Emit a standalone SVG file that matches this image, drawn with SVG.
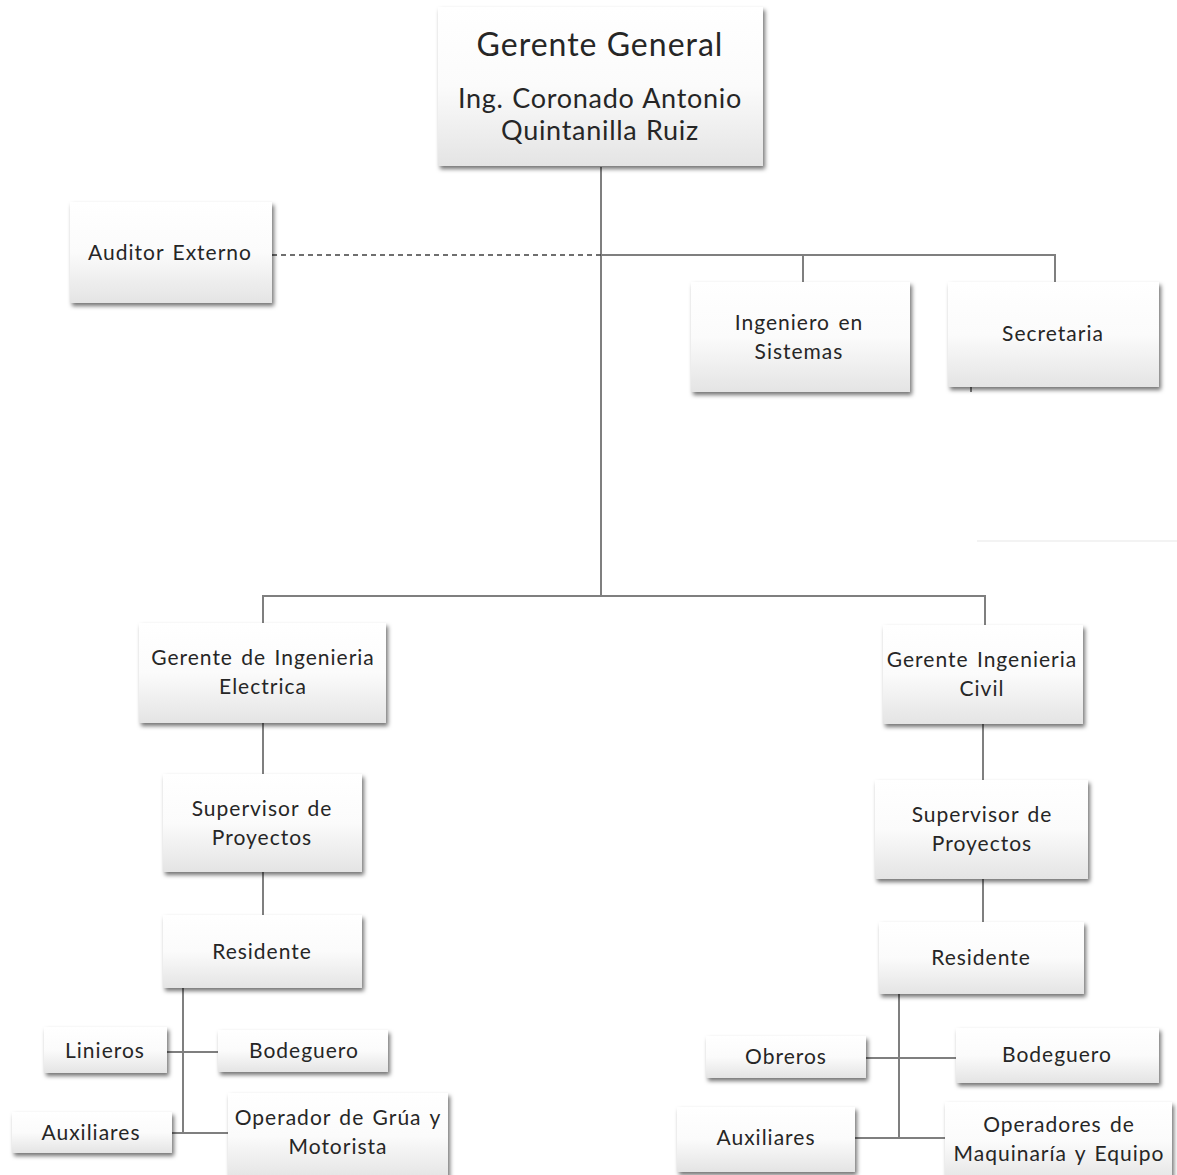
<svg xmlns="http://www.w3.org/2000/svg" width="1177" height="1175" viewBox="0 0 1177 1175">
<style>
.box{fill:url(#g);filter:url(#sh)}
.t{font-family:Lato,"Open Sans","Liberation Sans",sans-serif;font-size:21px;letter-spacing:1px;word-spacing:2px;fill:#262626;text-anchor:middle}
.big{font-size:32px;letter-spacing:1px;word-spacing:0}
.mid{font-size:27px;letter-spacing:0.7px;word-spacing:1px}
.c{stroke:#7f7f7f;stroke-width:2;fill:none}
.d{stroke:#404040;stroke-width:1.5;stroke-dasharray:5 4;fill:none}
</style>
<defs>
<linearGradient id="g" x1="0" y1="0" x2="0" y2="1">
<stop offset="0" stop-color="#ffffff"/>
<stop offset="0.5" stop-color="#fbfbfb"/>
<stop offset="1" stop-color="#e4e4e4"/>
</linearGradient>
<filter id="sh" x="-10%" y="-10%" width="130%" height="140%">
<feDropShadow dx="2" dy="3" stdDeviation="2" flood-color="#000" flood-opacity="0.55"/>
</filter>
</defs>
<rect width="1177" height="1175" fill="#fff"/>
<g id="connectors">
<path class="c" d="M601 167V596"/>
<path class="d" d="M272 255H601"/>
<path class="c" d="M601 255H1055V282M803 255V282"/>
<path class="c" d="M263 625V596H985V625"/>
<path class="c" d="M263 723V774M263 872V915"/>
<path class="c" d="M983 724V780M983 879V922"/>
<path class="c" d="M183 988V1133M167 1052H218M172 1133H228"/>
<path class="c" d="M899 994V1138M866 1058H956M855 1138H945"/>
<path class="c" d="M971 387V392" stroke-width="1.5"/>
<path d="M977 541H1177" stroke="#f3f3f3" stroke-width="2"/>
</g>
<g id="gerente-general"><rect class="box" x="438" y="7" width="325" height="159"/>
<text class="t big" x="600" y="56">Gerente General</text>
<text class="t mid" x="600" y="108">Ing. Coronado Antonio</text>
<text class="t mid" x="600" y="140">Quintanilla Ruiz</text></g>
<g id="auditor"><rect class="box" x="70" y="202" width="202" height="101"/>
<text class="t" x="170" y="260">Auditor Externo</text></g>
<g id="ingeniero-sistemas"><rect class="box" x="691" y="282" width="219" height="110"/>
<text class="t" x="799" y="330">Ingeniero en</text>
<text class="t" x="799" y="359">Sistemas</text></g>
<g id="secretaria"><rect class="box" x="948" y="282" width="211" height="105"/>
<text class="t" x="1053" y="341">Secretaria</text></g>
<g id="gerente-electrica"><rect class="box" x="139" y="623" width="247" height="100"/>
<text class="t" x="263" y="665">Gerente de Ingenieria</text>
<text class="t" x="263" y="694">Electrica</text></g>
<g id="gerente-civil"><rect class="box" x="883" y="625" width="200" height="99"/>
<text class="t" x="982" y="667">Gerente Ingenieria</text>
<text class="t" x="982" y="696">Civil</text></g>
<g id="supervisor-e"><rect class="box" x="163" y="774" width="199" height="98"/>
<text class="t" x="262" y="816">Supervisor de</text>
<text class="t" x="262" y="845">Proyectos</text></g>
<g id="supervisor-c"><rect class="box" x="875" y="780" width="213" height="99"/>
<text class="t" x="982" y="822">Supervisor de</text>
<text class="t" x="982" y="851">Proyectos</text></g>
<g id="residente-e"><rect class="box" x="163" y="915" width="199" height="73"/>
<text class="t" x="262" y="959">Residente</text></g>
<g id="residente-c"><rect class="box" x="879" y="922" width="205" height="72"/>
<text class="t" x="981" y="965">Residente</text></g>
<g id="linieros"><rect class="box" x="44" y="1027" width="123" height="46"/>
<text class="t" x="105" y="1058">Linieros</text></g>
<g id="bodeguero-e"><rect class="box" x="218" y="1030" width="170" height="42"/>
<text class="t" x="304" y="1058">Bodeguero</text></g>
<g id="auxiliares-e"><rect class="box" x="12" y="1112" width="160" height="41"/>
<text class="t" x="91" y="1140">Auxiliares</text></g>
<g id="operador-grua"><rect class="box" x="228" y="1093" width="220" height="86"/>
<text class="t" x="338" y="1125">Operador de Grúa y</text>
<text class="t" x="338" y="1154">Motorista</text></g>
<g id="obreros"><rect class="box" x="706" y="1036" width="160" height="42"/>
<text class="t" x="786" y="1064">Obreros</text></g>
<g id="bodeguero-c"><rect class="box" x="956" y="1028" width="203" height="55"/>
<text class="t" x="1057" y="1062">Bodeguero</text></g>
<g id="auxiliares-c"><rect class="box" x="677" y="1107" width="178" height="65"/>
<text class="t" x="766" y="1145">Auxiliares</text></g>
<g id="operadores-maq"><rect class="box" x="945" y="1102" width="227" height="80"/>
<text class="t" x="1059" y="1132">Operadores de</text>
<text class="t" x="1059" y="1161">Maquinaría y Equipo</text></g>
</svg>
